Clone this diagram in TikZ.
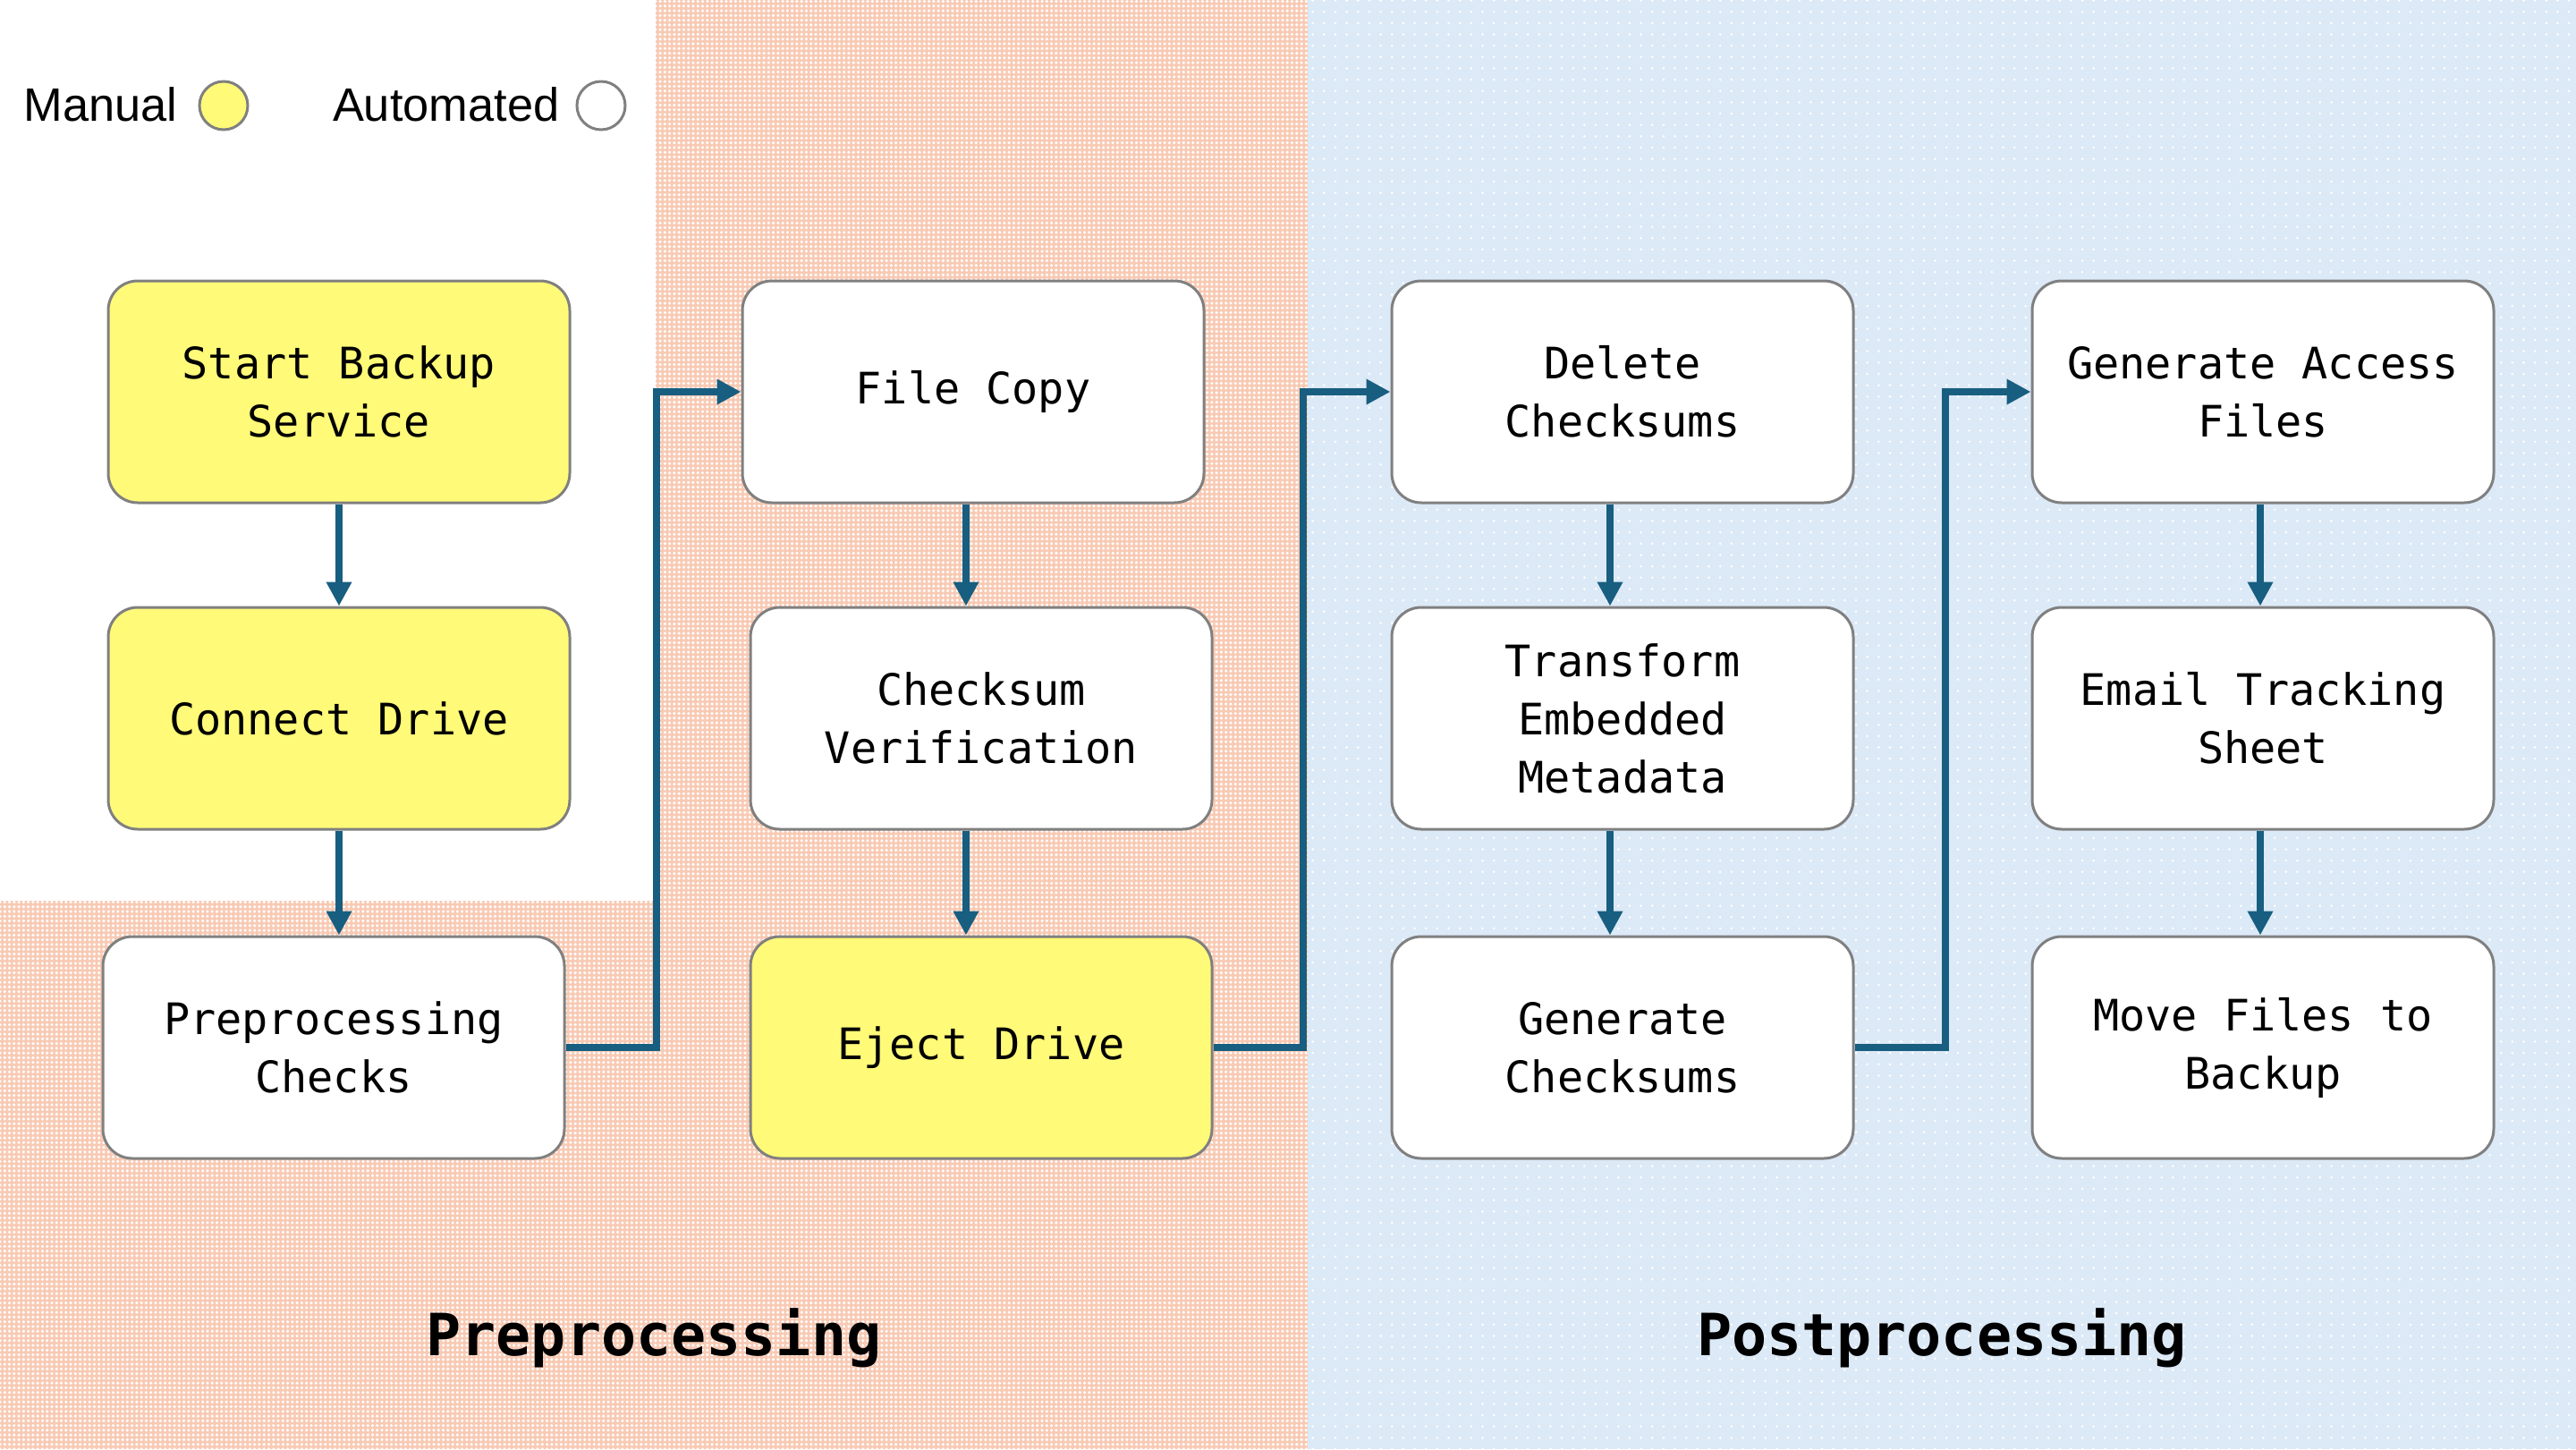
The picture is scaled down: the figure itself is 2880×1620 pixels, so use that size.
\documentclass[tikz,border=0pt]{standalone}
\usepackage{fontspec}
\setmainfont{Liberation Sans}
\setmonofont{DejaVu Sans Mono}
\definecolor{manualyellow}{RGB}{255, 250, 120}
\definecolor{boxgray}{RGB}{128, 128, 128}
\definecolor{flowblue}{RGB}{24, 94, 128}
\definecolor{preorange}{RGB}{248, 202, 180}
\definecolor{postblue}{RGB}{220, 233, 246}
\usepackage{tikz}
\usetikzlibrary{arrows.meta, patterns.meta, positioning}
\tikzset{
    stepbox/.style={draw=boxgray, line width=0.3mm, rectangle, rounded corners=3.3mm, minimum width=51.6mm, minimum height=24.8mm, font=\ttfamily\fontsize{13.8}{18.5}\selectfont, align=center},
    manualbox/.style={stepbox, fill=manualyellow},
    autobox/.style={stepbox, fill=white},
    flowarrow/.style={-{Triangle[length=2.7mm, width=2.7mm]}, line width=0.8mm, draw=flowblue},
    legendtext/.style={font=\fontsize{14.9}{18}\selectfont, inner sep=0pt},
    legenddot/.style={circle, draw=boxgray, line width=0.3mm, minimum size=5.4mm, inner sep=0pt},
    phasetitle/.style={font=\ttfamily\bfseries\fontsize{18.5}{22}\selectfont, inner sep=0pt},
    prezone/.style={fill=preorange, postaction={pattern={Dots[distance=1.5pt, radius=0.5pt]}, pattern color=white}},
    postzone/.style={fill=postblue, postaction={pattern={Dots[distance=3.6pt, radius=0.42pt]}, pattern color=white}},
}
\begin{document}
\begin{tikzpicture}[x=0.1mm, y=-0.1mm]
    \useasboundingbox (0,0) rectangle (2880,1620);
    \fill[white] (0,0) rectangle (2880,1620);

    % Phase backgrounds
    \path[prezone] (733,0) -- (1462,0) -- (1462,1620) -- (0,1620) -- (0,1007) -- (733,1007) -- cycle;
    \path[postzone] (1462,0) rectangle (2880,1620);

    % Legend
    \node[legendtext, anchor=base east] (mantext) at (199,135) {Manual};
    \node[legenddot, fill=manualyellow] (mandot) at (250,118) {};
    \node[legendtext, anchor=base east] (autotext) at (626,135) {Automated};
    \node[legenddot, fill=white] (autodot) at (672,118) {};

    % Preprocessing steps
    \node[manualbox] (start) at (379,438) {Start Backup\\Service};
    \node[manualbox] (connect) at (379,803) {Connect Drive};
    \node[autobox] (prep) at (373,1171) {Preprocessing\\Checks};
    \node[autobox] (fcopy) at (1088,438) {File Copy};
    \node[autobox] (verify) at (1097,803) {Checksum\\Verification};
    \node[manualbox] (eject) at (1097,1171) {Eject Drive};

    % Postprocessing steps
    \node[autobox] (delck) at (1814,438) {Delete\\Checksums};
    \node[autobox] (transform) at (1814,803) {Transform\\Embedded\\Metadata};
    \node[autobox] (gench) at (1814,1171) {Generate\\Checksums};
    \node[autobox] (access) at (2530,438) {Generate Access\\Files};
    \node[autobox] (email) at (2530,803) {Email Tracking\\Sheet};
    \node[autobox] (move) at (2530,1171) {Move Files to\\Backup};

    % Phase titles
    \node[phasetitle, anchor=base] (pretitle) at (731,1515) {Preprocessing};
    \node[phasetitle, anchor=base] (posttitle) at (2171,1515) {Postprocessing};

    % Arrows down the columns
    \draw[flowarrow] (start) -- (connect);
    \draw[flowarrow] (connect.south) -- (connect.south |- prep.north);
    \draw[flowarrow] ([xshift=-0.8mm]fcopy.south) -- ([xshift=-0.8mm]fcopy.south |- verify.north);
    \draw[flowarrow] ([xshift=-1.7mm]verify.south) -- ([xshift=-1.7mm]verify.south |- eject.north);
    \draw[flowarrow] ([xshift=-1.4mm]delck.south) -- ([xshift=-1.4mm]delck.south |- transform.north);
    \draw[flowarrow] ([xshift=-1.4mm]transform.south) -- ([xshift=-1.4mm]transform.south |- gench.north);
    \draw[flowarrow] ([xshift=-0.3mm]access.south) -- ([xshift=-0.3mm]access.south |- email.north);
    \draw[flowarrow] ([xshift=-0.3mm]email.south) -- ([xshift=-0.3mm]email.south |- move.north);

    % Arrows between columns
    \draw[flowarrow] (prep.east) -- ++(101,0) |- (fcopy.west);
    \draw[flowarrow] (eject.east) -- ++(100,0) |- (delck.west);
    \draw[flowarrow] (gench.east) -- ++(101,0) |- (access.west);
\end{tikzpicture}
\end{document}
